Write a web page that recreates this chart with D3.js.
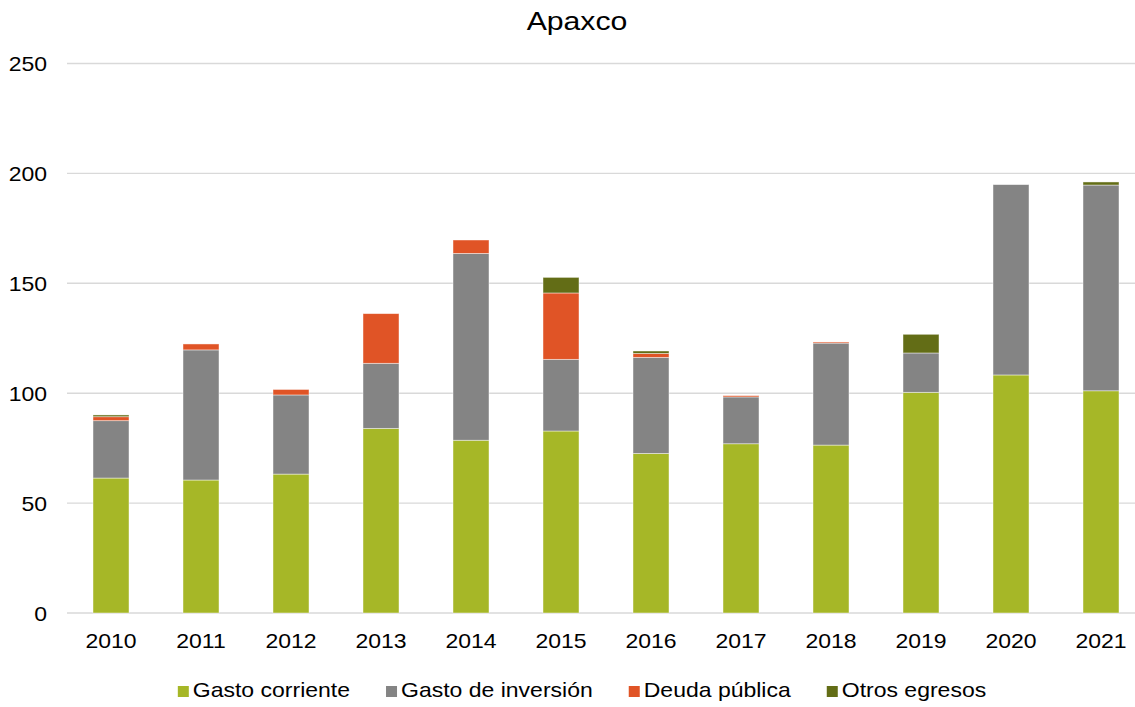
<!DOCTYPE html>
<html>
<head>
<meta charset="utf-8">
<script src="https://cdn.jsdelivr.net/npm/d3@7"></script>
<style>
  body { margin: 0; background: #fff; }
  text { font-family: "Liberation Sans", Arial, sans-serif; fill: #000; }
</style>
</head>
<body>
<div id="wrapper"></div>
<script>
// data
const years = ["2010","2011","2012","2013","2014","2015","2016","2017","2018","2019","2020","2021"]
const gastoCorriente = [61.4, 60.5, 63.2, 84.0, 78.6, 82.8, 72.6, 77.0, 76.4, 100.4, 108.3, 101.1]
const gastoInversion = [26.1, 59.2, 36.0, 29.6, 85.0, 32.6, 43.7, 21.3, 46.4, 17.9, 86.6, 93.6]
const deudaPublica   = [1.8, 2.7, 2.5, 22.6, 6.1, 30.2, 1.8, 0.6, 0.5, 0, 0, 0]
const otrosEgresos   = [0.8, 0, 0, 0, 0, 7.1, 1.1, 0, 0, 8.5, 0, 1.4]
const seriesNames = ["Gasto corriente", "Gasto de inversión", "Deuda pública", "Otros egresos"]
const yTicks = [0, 50, 100, 150, 200, 250]

const colors = ["#a6b727", "#848484", "#e05426", "#636d16"]
const stretch = 1.15
const fontSize = "20px"

const dims = { width: 1135, height: 707 }

const table = years.map((y, i) => ({
  year: y,
  [seriesNames[0]]: gastoCorriente[i],
  [seriesNames[1]]: gastoInversion[i],
  [seriesNames[2]]: deudaPublica[i],
  [seriesNames[3]]: otrosEgresos[i]
}))

const stacked = d3.stack().keys(seriesNames)(table)

const svg = d3.select("#wrapper")
  .append("svg")
    .attr("width", dims.width)
    .attr("height", dims.height)

const xScale = d3.scaleBand()
  .domain(years)
  .range([66, 1146])
  .paddingInner(0.6)
  .paddingOuter(0.3)

const yScale = d3.scaleLinear()
  .domain([0, 250])
  .range([613, 63.5])

// gridlines
svg.append("g")
  .selectAll("line")
  .data(yTicks)
  .join("line")
    .attr("x1", 67)
    .attr("x2", dims.width)
    .attr("y1", d => yScale(d))
    .attr("y2", d => yScale(d))
    .attr("stroke", "#d9d9d9")
    .attr("stroke-width", 1.4)

// bars
svg.append("g")
  .selectAll("g")
  .data(stacked)
  .join("g")
    .attr("fill", (d, i) => colors[i])
  .selectAll("rect")
  .data(d => d.filter(s => s[1] - s[0] > 0))
  .join("rect")
    .attr("x", d => xScale(d.data.year))
    .attr("width", xScale.bandwidth())
    .attr("y", d => yScale(d[1]))
    .attr("height", d => yScale(d[0]) - yScale(d[1]))
    .attr("stroke", "rgba(255,255,255,0.55)")
    .attr("stroke-width", 0.8)

// y axis
const yAxis = svg.append("g")
  .attr("transform", "translate(47,0)")
  .call(d3.axisLeft(yScale).tickValues(yTicks).tickSize(0).tickPadding(0))
yAxis.select(".domain").remove()
yAxis.selectAll("text")
  .attr("x", 0)
  .attr("dy", "0.35em")
  .style("font-size", fontSize)
  .attr("fill", "#000")
  .attr("transform", `scale(${stretch},1)`)

// x axis
const xAxis = svg.append("g")
  .attr("transform", "translate(0,613)")
  .call(d3.axisBottom(xScale).tickSize(0).tickPadding(0))
xAxis.select(".domain").remove()
xAxis.selectAll("text")
  .attr("y", 35)
  .attr("dy", 0)
  .style("font-size", fontSize)
  .attr("fill", "#000")
  .attr("transform", `scale(${stretch},1)`)

// title
svg.append("text")
  .attr("transform", `translate(577,30) scale(1.14,1)`)
  .attr("text-anchor", "middle")
  .style("font-size", "26.5px")
  .text("Apaxco")

// legend
const legend = svg.append("g")
const items = legend.selectAll("g")
  .data(seriesNames)
  .join("g")
items.append("rect")
  .attr("width", 11)
  .attr("height", 11)
  .attr("y", -11)
  .attr("fill", (d, i) => colors[i])
items.append("text")
  .attr("transform", `translate(15,0) scale(${stretch},1)`)
  .style("font-size", fontSize)
  .attr("fill", "#404040")
  .text(d => d)

let cursor = 0
items.each(function() {
  const w = d3.select(this).select("text").node().getComputedTextLength() * stretch
  d3.select(this).attr("transform", `translate(${cursor},0)`)
  cursor += 15 + w + 36
})
cursor -= 36
legend.attr("transform", `translate(${582 - cursor / 2},697)`)
</script>
</body>
</html>
